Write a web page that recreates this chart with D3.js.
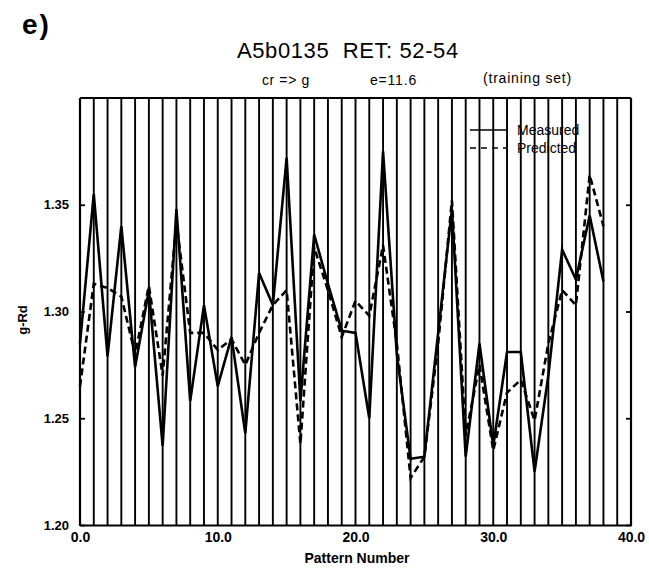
<!DOCTYPE html>
<html>
<head>
<meta charset="utf-8">
<script src="https://cdnjs.cloudflare.com/ajax/libs/d3/7.8.5/d3.min.js"></script>
<style>
  body { margin: 0; background: #fff; }
  text { font-family: "Liberation Sans", Arial, Helvetica, sans-serif; fill: #000; }
</style>
</head>
<body>
<div id="myGraph"></div>
<script>
// data
var patternNo = [0,1,2,3,4,5,6,7,8,9,10,11,12,13,14,15,16,17,18,19,
                 20,21,22,23,24,25,26,27,28,29,30,31,32,33,34,35,36,37,38];
var measured = [1.285,1.355,1.279,1.340,1.274,1.310,1.237,1.348,1.258,1.303,
                1.265,1.288,1.243,1.318,1.303,1.372,1.258,1.336,1.313,1.291,
                1.290,1.250,1.375,1.280,1.231,1.232,1.290,1.348,1.232,1.285,
                1.237,1.281,1.281,1.225,1.270,1.329,1.315,1.345,1.314];
var predicted = [1.265,1.313,1.311,1.307,1.280,1.312,1.270,1.342,1.290,1.290,
                 1.282,1.287,1.275,1.290,1.303,1.310,1.238,1.330,1.310,1.288,
                 1.305,1.298,1.331,1.285,1.222,1.232,1.285,1.352,1.242,1.275,
                 1.235,1.262,1.268,1.249,1.285,1.310,1.303,1.364,1.340];
var gridLines = [1,2,3,4,5,6,7,8,9,10,11,12,13,14,15,16,17,18,19,20,
                 21,22,23,24,25,26,27,28,29,30,31,32,33,34,35,36,37,38,39];
var yTicks = [1.20, 1.25, 1.30, 1.35];
var xTicks = [0, 10, 20, 30, 40];
var seriesNames = ["Measured", "Predicted"];

chart();

function chart(){
    var width = 649, height = 574;
    var left = 80, right = 631, top = 98, bottom = 525;

    var x = d3.scaleLinear().domain([0, 40]).range([left, right]);
    var y = d3.scaleLinear().domain([1.20, 1.40]).range([bottom, top]);

    var svg = d3.select("#myGraph").append("svg")
            .attr("width", width)
            .attr("height", height);

    // vertical lines at every pattern
    svg.selectAll(".vline")
            .data(gridLines)
            .enter().append("line")
            .attr("class", "vline")
            .attr("x1", function(d){ return x(d); })
            .attr("x2", function(d){ return x(d); })
            .attr("y1", y(1.20))
            .attr("y2", y(1.40))
            .attr("stroke", "#000")
            .attr("stroke-width", 1.9);

    // top of the frame
    svg.append("line")
            .attr("x1", x(0)).attr("x2", x(40))
            .attr("y1", y(1.40)).attr("y2", y(1.40))
            .attr("stroke", "#000").attr("stroke-width", 2);

    var yAxis = d3.axisLeft(y)
            .tickValues(yTicks)
            .tickFormat(d3.format(".2f"))
            .tickSizeInner(-5)
            .tickSizeOuter(0)
            .tickPadding(11);
    var gy = svg.append("g")
            .attr("transform", "translate(" + left + ",0)")
            .call(yAxis);

    var yAxisR = d3.axisRight(y)
            .tickValues(yTicks)
            .tickFormat("")
            .tickSizeInner(-5)
            .tickSizeOuter(0);
    var gyr = svg.append("g")
            .attr("transform", "translate(" + right + ",0)")
            .call(yAxisR);

    var xAxis = d3.axisBottom(x)
            .tickValues(xTicks)
            .tickFormat(d3.format(".1f"))
            .tickSizeInner(0)
            .tickSizeOuter(0)
            .tickPadding(7);
    var gx = svg.append("g")
            .attr("transform", "translate(0," + bottom + ")")
            .call(xAxis);

    [gy, gyr, gx].forEach(function(g){
        g.select(".domain").attr("stroke", "#000").attr("stroke-width", 2.2);
        g.selectAll(".tick line").attr("stroke", "#000").attr("stroke-width", 1.8);
        g.selectAll("text")
                .style("font-family", "'Liberation Sans', Arial, sans-serif")
                .style("font-weight", "bold")
                .style("font-size", "13px")
                .attr("fill", "#000");
    });
    gx.selectAll("text").style("font-size", "14px");
    gy.select(".domain").attr("d", "M0," + (bottom + 1) + "V" + top);
    gyr.select(".domain").attr("d", "M0," + (bottom + 1) + "V" + top);

    // series
    var line = d3.line()
            .x(function(d, i){ return x(patternNo[i]); })
            .y(function(d){ return y(d); });

    svg.append("path")
            .datum(measured)
            .attr("d", line)
            .attr("fill", "none")
            .attr("stroke", "#000")
            .attr("stroke-width", 2.6)
            .attr("stroke-linejoin", "miter");

    svg.append("path")
            .datum(predicted)
            .attr("d", line)
            .attr("fill", "none")
            .attr("stroke", "#000")
            .attr("stroke-width", 2.6)
            .attr("stroke-dasharray", "7,4");

    // legend
    var lg = svg.selectAll(".legend")
            .data(seriesNames)
            .enter().append("g")
            .attr("class", "legend")
            .attr("transform", function(d, i){ return "translate(470," + (130 + i * 18) + ")"; });
    lg.append("line")
            .attr("x1", 0).attr("x2", 36)
            .attr("stroke", "#000")
            .attr("stroke-width", 1.6)
            .attr("stroke-dasharray", function(d, i){ return i == 1 ? "6,5" : null; });
    lg.append("text")
            .attr("x", 47)
            .attr("dy", "0.35em")
            .style("font-size", "14px")
            .text(function(d){ return d; });

    // titles
    svg.append("text")
            .attr("x", 22).attr("y", 34)
            .style("font-size", "28px").style("font-weight", "bold")
            .style("letter-spacing", "2px")
            .text("e)");
    svg.append("text")
            .attr("x", 237).attr("y", 58)
            .style("font-size", "22px")
            .style("letter-spacing", "0.6px")
            .style("white-space", "pre")
            .text("A5b0135  RET: 52-54");
    svg.append("text")
            .attr("x", 262).attr("y", 85)
            .style("font-size", "14px")
            .style("letter-spacing", "0.6px")
            .text("cr => g");
    svg.append("text")
            .attr("x", 370).attr("y", 85)
            .style("font-size", "14px")
            .style("letter-spacing", "0.8px")
            .text("e=11.6");
    svg.append("text")
            .attr("x", 483).attr("y", 83)
            .style("font-size", "14px")
            .style("letter-spacing", "0.8px")
            .text("(training set)");

    // axis titles
    svg.append("text")
            .attr("transform", "translate(27,320) rotate(-90)")
            .attr("text-anchor", "middle")
            .style("font-size", "13px").style("font-weight", "bold")
            .text("g-Rd");
    svg.append("text")
            .attr("x", 357).attr("y", 563)
            .attr("text-anchor", "middle")
            .style("font-size", "14px").style("font-weight", "bold")
            .text("Pattern Number");
}
</script>
</body>
</html>
